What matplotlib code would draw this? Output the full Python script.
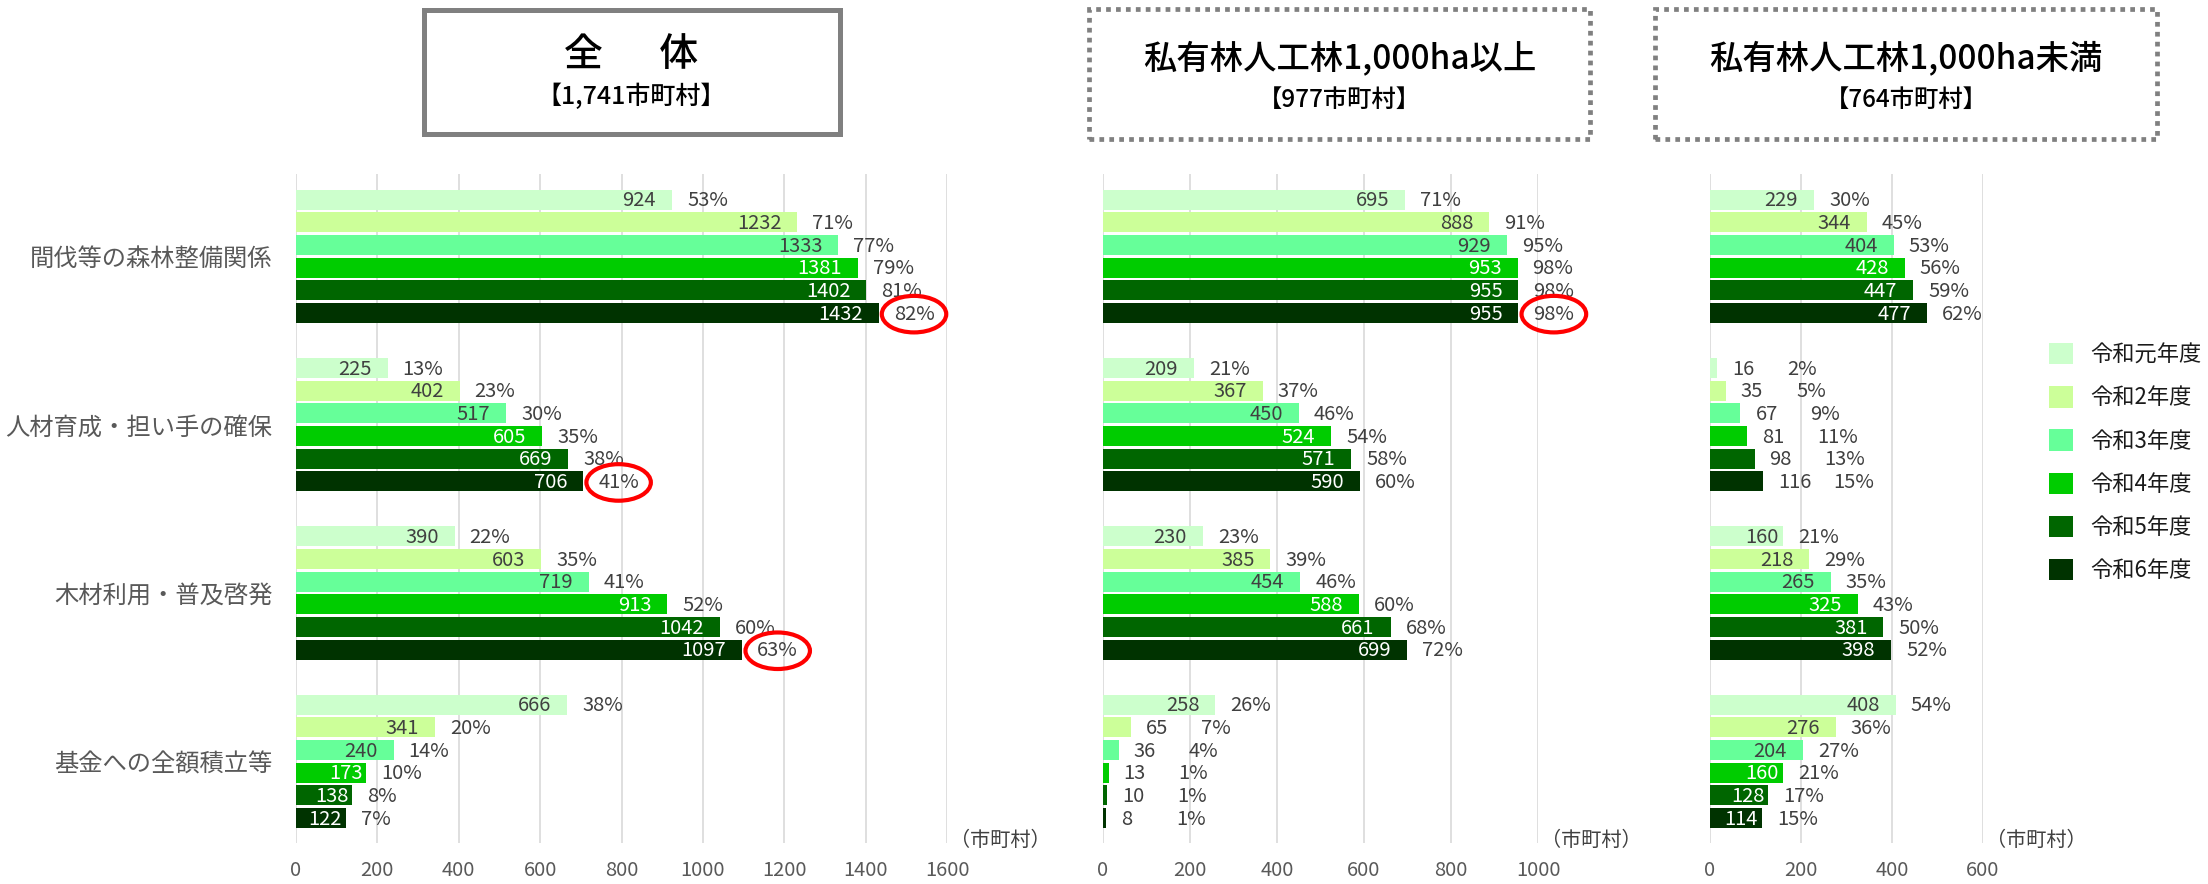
import matplotlib
matplotlib.use("Agg")
import matplotlib.pyplot as plt
from matplotlib.patches import Rectangle, Patch

plt.rcParams['font.family'] = ['Noto Sans CJK JP', 'DejaVu Sans']

W, H = 2208, 884
TEXT = '#404040'
AXIS_TXT = '#595959'

categories = ['間伐等の森林整備関係', '人材育成・担い手の確保', '木材利用・普及啓発', '基金への全額積立等']
years = ['令和元年度', '令和2年度', '令和3年度', '令和4年度', '令和5年度', '令和6年度']
colors = ['#CCFFCC', '#CCFF99', '#66FF99', '#00CC00', '#006600', '#003300']

# rows = fiscal year, columns = category
all_counts = [
    [924, 225, 390, 666],
    [1232, 402, 603, 341],
    [1333, 517, 719, 240],
    [1381, 605, 913, 173],
    [1402, 669, 1042, 138],
    [1432, 706, 1097, 122],
]
all_pct = [
    [53, 13, 22, 38],
    [71, 23, 35, 20],
    [77, 30, 41, 14],
    [79, 35, 52, 10],
    [81, 38, 60, 8],
    [82, 41, 63, 7],
]
large_counts = [
    [695, 209, 230, 258],
    [888, 367, 385, 65],
    [929, 450, 454, 36],
    [953, 524, 588, 13],
    [955, 571, 661, 10],
    [955, 590, 699, 8],
]
large_pct = [
    [71, 21, 23, 26],
    [91, 37, 39, 7],
    [95, 46, 46, 4],
    [98, 54, 60, 1],
    [98, 58, 68, 1],
    [98, 60, 72, 1],
]
small_counts = [
    [229, 16, 160, 408],
    [344, 35, 218, 276],
    [404, 67, 265, 204],
    [428, 81, 325, 160],
    [447, 98, 381, 128],
    [477, 116, 398, 114],
]
small_pct = [
    [30, 2, 21, 54],
    [45, 5, 29, 36],
    [53, 9, 35, 27],
    [56, 11, 43, 21],
    [59, 13, 50, 17],
    [62, 15, 52, 15],
]

titles = ['全　  体', '私有林人工林1,000ha以上', '私有林人工林1,000ha未満']
subtitles = ['【1,741市町村】', '【977市町村】', '【764市町村】']
x_max = [1600, 1000, 600]

# (panel, category) whose last bar percentage is circled in red
circled = [(0, 0), (0, 1), (0, 2), (1, 0)]
# groups where all small-bar counts sit outside the bar
outside_groups = [(2, 1)]

panels = [
    dict(counts=all_counts, pct=all_pct, ax_px=(296, 947), box=(423.5, 839.5, 10, 133.5), solid=True,
         tsize=28, ssize=18, ty=55, sy=97),
    dict(counts=large_counts, pct=large_pct, ax_px=(1103, 1538), box=(1089, 1590, 9.5, 139), solid=False,
         tsize=24, ssize=17.5, ty=59, sy=100),
    dict(counts=small_counts, pct=small_pct, ax_px=(1710, 1983), box=(1655, 2157, 9.5, 139), solid=False,
         tsize=24, ssize=17.5, ty=59, sy=100),
]

AX_TOP, AX_BOT = 174, 843
PITCH = 0.1347
BAR_H = 0.119

fig = plt.figure(figsize=(W / 100, H / 100), dpi=100)

for p, spec in enumerate(panels):
    x0, x1 = spec['ax_px']
    ax = fig.add_axes([x0 / W, 1 - AX_BOT / H, (x1 - x0) / W, (AX_BOT - AX_TOP) / H])
    ppu = (x1 - x0) / x_max[p]
    counts, pct = spec['counts'], spec['pct']

    for i in range(len(years)):
        ys = [c + (i - 2.5) * PITCH for c in range(len(categories))]
        ax.barh(ys, counts[i], height=BAR_H, color=colors[i], label=years[i], zorder=2)
        for c, (y, v, pc) in enumerate(zip(ys, counts[i], pct[i])):
            bar_px = v * ppu
            outside = bar_px < 45 or (p, c) in outside_groups
            if outside:
                ax.annotate(str(v), xy=(v, y), xytext=(15, -1), textcoords='offset pixels',
                            ha='left', va='center', fontsize=14.5, color=TEXT)
                pct_off = 70
            else:
                off = 16 if bar_px > 90 else 4
                ax.annotate(str(v), xy=(v, y), xytext=(-off, -1), textcoords='offset pixels',
                            ha='right', va='center', fontsize=14.5,
                            color=TEXT if i < 3 else 'white')
                pct_off = 15
            kw = {}
            if i == len(years) - 1 and (p, c) in circled:
                kw['bbox'] = dict(boxstyle='ellipse,pad=0.12', fc='none', ec='#FF0000', lw=3)
            ax.annotate(f'{pc}%', xy=(v, y), xytext=(pct_off, -1), textcoords='offset pixels',
                        ha='left', va='center', fontsize=14.5, color=TEXT, zorder=5, **kw)

    ax.set_xlim(0, x_max[p])
    ax.set_ylim(3.485, -0.49)
    ax.set_xticks(range(0, x_max[p] + 1, 200))
    ax.tick_params(axis='x', length=0, pad=12, labelsize=14.5, labelcolor=AXIS_TXT)
    ax.grid(axis='x', color='#D9D9D9', lw=1.2, zorder=0)
    ax.set_axisbelow(True)
    for s in ax.spines.values():
        s.set_visible(False)
    if p == 0:
        ax.set_yticks(range(len(categories)))
        ax.set_yticklabels(categories)
        ax.tick_params(axis='y', length=0, pad=17, labelsize=17.5, labelcolor=AXIS_TXT)
    else:
        ax.set_yticks([])

    ax.annotate('（市町村）', xy=(1, 0), xycoords='axes fraction', xytext=(3, 3),
                textcoords='offset pixels', ha='left', va='center', fontsize=14.5, color=TEXT)

    # title box
    bx0, bx1, by0, by1 = spec['box']
    rect = Rectangle((bx0 / W, 1 - by1 / H), (bx1 - bx0) / W, (by1 - by0) / H,
                     transform=fig.transFigure, fill=False, ec='#808080',
                     lw=3.6 if spec['solid'] else 3.4,
                     ls='-' if spec['solid'] else (0, (1, 1.1)))
    fig.add_artist(rect)
    cx = (bx0 + bx1) / 2 / W
    fig.text(cx, 1 - spec['ty'] / H, titles[p], ha='center', va='center',
             fontsize=spec['tsize'], color='black', fontweight='medium')
    fig.text(cx, 1 - spec['sy'] / H, subtitles[p], ha='center', va='center',
             fontsize=spec['ssize'], color='black', fontweight='medium')

handles = [Patch(facecolor=col, edgecolor='none', label=lab) for col, lab in zip(colors, years)]
fig.legend(handles=handles, loc='upper left', bbox_to_anchor=(2049 / W, 1 - 343 / H),
           frameon=False, fontsize=16, handlelength=1.1, handleheight=1.1,
           handletextpad=0.75, labelspacing=0.9, borderpad=0, borderaxespad=0,
           labelcolor='#1a1a1a')

fig.savefig('out.png', dpi=100)
